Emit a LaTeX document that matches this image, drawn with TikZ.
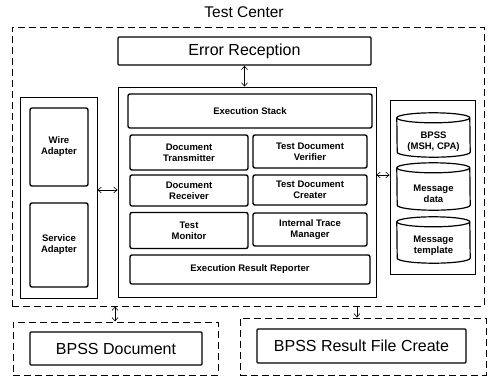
\documentclass[tikz,border=0pt]{standalone}
\usepackage{fontspec}
\setmainfont{Liberation Sans}
\usetikzlibrary{arrows.meta,calc}
\begin{document}
\begin{tikzpicture}[x=1pt,y=1pt,
  box/.style={draw,line width=1.4pt,rounded corners=2pt,align=center,
    font=\bfseries\fontsize{9.5}{11}\selectfont,inner sep=0pt},
  bigbox/.style={draw,line width=1.4pt,rounded corners=1pt,align=center,
    font=\fontsize{16}{18}\selectfont,inner sep=0pt},
  panel/.style={draw,line width=0.7pt,inner sep=0pt},
  dashbox/.style={draw,line width=1pt,dash pattern=on 7pt off 4pt,inner sep=0pt},
  cylarea/.style={inner sep=0pt},
  cyltext/.style={align=center,font=\bfseries\fontsize{9.5}{11}\selectfont},
  conn/.style={line width=0.6pt,{Straight Barb[length=3.5pt,width=6pt]}-{Straight Barb[length=3.5pt,width=6pt]}},
  conn1/.style={line width=0.6pt,-{Straight Barb[length=3.5pt,width=6pt]}}
]
\useasboundingbox (0,0) rectangle (488,-378);

% title
\node[font=\fontsize{15.5}{18}\selectfont] (title) at (244,-12) {Test Center};

% outer dashed
\node[dashbox,minimum width=472pt,minimum height=279pt] (outer) at (248,-166.5) {};

% Error reception
\node[bigbox,minimum width=253pt,minimum height=28pt] (err) at (244.5,-51) {Error Reception};

% center panel
\node[panel,minimum width=258pt,minimum height=210pt] (center) at (247,-192) {};
\node[box,minimum width=244pt,minimum height=34pt] (stack) at (250,-111) {Execution Stack};
\node[box,minimum width=118pt,minimum height=35pt] (trans) at (189,-152.5) {Document\\Transmitter};
\node[box,minimum width=118pt,minimum height=31pt] (recv) at (189,-190.5) {Document\\Receiver};
\node[box,minimum width=118pt,minimum height=36pt] (mon) at (189,-230.5) {Test\\Monitor};
\node[box,minimum width=114pt,minimum height=33pt] (verif) at (310,-151.5) {Test Document\\Verifier};
\node[box,minimum width=114pt,minimum height=30pt] (creat) at (310,-190) {Test Document\\Creater};
\node[box,minimum width=114pt,minimum height=33pt] (trace) at (310,-229.5) {Internal Trace\\Manager};
\node[box,minimum width=240pt,minimum height=29pt] (report) at (250,-269.5) {Execution Result Reporter};

% left panel
\node[panel,minimum width=77pt,minimum height=201pt] (left) at (58.5,-197.5) {};
\node[box,minimum width=58pt,minimum height=78pt] (wire) at (59,-147) {Wire\\Adapter};
\node[box,minimum width=58pt,minimum height=84pt] (serv) at (59,-245) {Service\\Adapter};

% right panel
\node[panel,minimum width=85pt,minimum height=174pt] (right) at (432.5,-187) {};
\node[cylarea,minimum width=73pt,minimum height=44pt] (c1) at (433.5,-135) {};
\node[cylarea,minimum width=73pt,minimum height=47pt] (c2) at (433.5,-186.5) {};
\node[cylarea,minimum width=73pt,minimum height=46pt] (c3) at (433.5,-240) {};
\foreach \c in {c1,c2,c3}{
  \draw[line width=1.2pt] ([yshift=-5pt]\c.north west) arc[start angle=180,end angle=0,x radius=36.5pt,y radius=5pt]
     -- ([yshift=5pt]\c.south east) arc[start angle=0,end angle=-180,x radius=36.5pt,y radius=5pt] -- cycle;
  \draw[line width=1.2pt] ([yshift=-5pt]\c.north west) arc[start angle=180,end angle=360,x radius=36.5pt,y radius=5pt];
}
\node[cyltext] (t1) at ([yshift=-7pt]c1.center) {BPSS\\(MSH, CPA)};
\node[cyltext] (t2) at ([yshift=-7pt]c2.center) {Message\\data};
\node[cyltext] (t3) at ([yshift=-6pt]c3.center) {Message\\template};

% bottom
\node[dashbox,minimum width=205pt,minimum height=53pt] (bl) at (115.5,-348.5) {};
\node[bigbox,minimum width=172pt,minimum height=33pt] (doc) at (116,-348.5) {BPSS Document};
\node[dashbox,minimum width=246pt,minimum height=57pt] (br) at (363,-346.5) {};
\node[bigbox,minimum width=209pt,minimum height=34pt] (res) at (361.5,-346) {BPSS Result File Create};

% connectors
\draw[conn] (err.south) -- (center.north -| err.south);
\draw[conn] (left.east |- 0,-190) -- (center.west |- 0,-190);
\draw[conn] (center.east |- 0,-175) -- (right.west |- 0,-175);
\draw[conn] (outer.south -| 115,0) -- (bl.north -| 115,0);
\draw[conn1] (outer.south -| 357,0) -- (br.north -| 357,0);
\end{tikzpicture}
\end{document}
